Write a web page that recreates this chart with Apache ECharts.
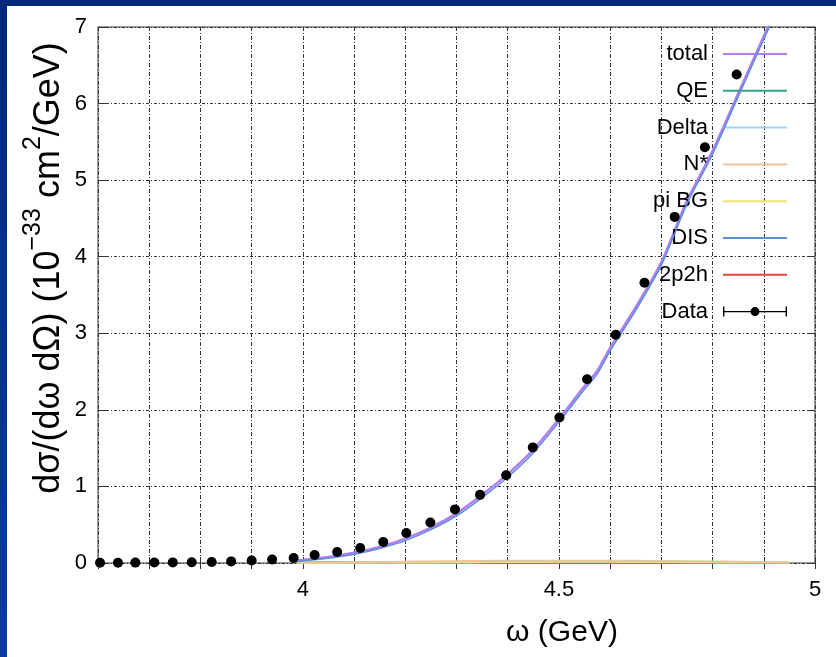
<!DOCTYPE html>
<html>
<head>
<meta charset="utf-8">
<script src="https://cdn.jsdelivr.net/npm/echarts@6/dist/echarts.min.js"></script>
<style>
  html, body { margin: 0; padding: 0; background: #002a7c; }
  #chart { width: 836px; height: 657px; }
</style>
</head>
<body>
<div id="chart"></div>
<script>
// ---- data ----
const xTickLabels = ['4', '4.5', '5'];
const yTickLabels = ['0', '1', '2', '3', '4', '5', '6', '7'];
const seriesNames = ['total', 'QE', 'Delta', 'N*', 'pi BG', 'DIS', '2p2h', 'Data'];
const xAxisTitle = 'ω (GeV)';

const omegaModel = [3.99, 4.0, 4.05, 4.1, 4.15, 4.2, 4.25, 4.3, 4.35, 4.4, 4.45, 4.5, 4.55, 4.575, 4.6, 4.65, 4.7, 4.75, 4.8, 4.85, 4.9, 4.95];
const totalVals = [0.035, 0.04, 0.078, 0.135, 0.21, 0.318, 0.462, 0.648, 0.89, 1.16, 1.48, 1.88, 2.31, 2.51, 2.81, 3.34, 3.93, 4.73, 5.38, 6.13, 6.88, 7.6];
const qeVals = [0.008, 0.01, 0.012, 0.01, 0.007, 0.005, 0.003, 0.002, 0.002, 0.001, 0.001, 0.001, 0.001, 0.001, 0.001, 0.001, 0, 0, 0, 0, 0, 0];
const deltaVals = [0.003, 0.003, 0.004, 0.004, 0.004, 0.004, 0.004, 0.004, 0.004, 0.003, 0.003, 0.003, 0.003, 0.003, 0.003, 0.003, 0.003, 0.002, 0.002, 0.002, 0.002, 0.002];
const nstarVals = [0.004, 0.005, 0.007, 0.009, 0.012, 0.016, 0.02, 0.024, 0.027, 0.029, 0.03, 0.031, 0.031, 0.031, 0.03, 0.028, 0.026, 0.023, 0.02, 0.016, 0.012, 0.009];
const piBGVals = [0.002, 0.003, 0.004, 0.005, 0.006, 0.007, 0.008, 0.01, 0.012, 0.013, 0.014, 0.015, 0.015, 0.015, 0.015, 0.014, 0.013, 0.011, 0.009, 0.007, 0.006, 0.005];
const disVals = [0.02, 0.028, 0.062, 0.115, 0.19, 0.292, 0.435, 0.615, 0.855, 1.12, 1.44, 1.84, 2.27, 2.47, 2.77, 3.3, 3.89, 4.69, 5.34, 6.09, 6.84, 7.57];
const np2hVals = [0, 0, 0.001, 0.001, 0.001, 0.001, 0.001, 0.001, 0.001, 0.001, 0.001, 0.001, 0.001, 0.001, 0.001, 0.001, 0.001, 0, 0, 0, 0, 0];

const omegaData = [3.604, 3.639, 3.673, 3.710, 3.746, 3.783, 3.822, 3.860, 3.900, 3.940, 3.982, 4.023, 4.067, 4.112, 4.157, 4.202, 4.249, 4.297, 4.346, 4.397, 4.449, 4.501, 4.555, 4.611, 4.667, 4.726, 4.785, 4.847];
const dataVals = [0.003, 0.004, 0.005, 0.006, 0.008, 0.010, 0.014, 0.021, 0.032, 0.045, 0.065, 0.105, 0.144, 0.196, 0.274, 0.392, 0.53, 0.70, 0.89, 1.145, 1.51, 1.90, 2.40, 2.98, 3.66, 4.52, 5.43, 6.38];

// ---- build ----
const pairs = (xs, ys) => xs.map((x, i) => [x, ys[i]]);
const FONT = '"Liberation Sans", Arial, sans-serif';
const colors = ['#b07ef0', '#34a883', '#9dd5f7', '#f0c49a', '#f3e07a', '#5b8ed6', '#e5443b'];
const widths = [2.5, 2, 2, 2, 2, 1.5, 2];
const modelVals = [totalVals, qeVals, deltaVals, nstarVals, piBGVals, disVals, np2hVals];
const zOrder = [3, 5, 4, 7, 6, 8, 2];

const lineSeries = modelVals.map((vals, i) => ({
  name: seriesNames[i],
  type: 'line',
  data: pairs(omegaModel, vals),
  showSymbol: false,
  symbol: 'none',
  smooth: 0.25,
  clip: true,
  lineStyle: { color: colors[i], width: widths[i] },
  itemStyle: { color: colors[i] },
  z: zOrder[i]
}));

const lineIcon = 'path://M0 0 L0.01 0 L0 0.01 Z M0 10 L0.01 10 L0 9.99 Z M0 4 H64 V6 H0 Z';
const errIcon = 'path://M0 4.4 H64 V5.6 H0 Z M0 0 H1.4 V10 H0 Z M62.6 0 H64 V10 H62.6 Z M27.5 5 A4.5 4.5 0 1 1 36.5 5 A4.5 4.5 0 1 1 27.5 5 Z';

const chart = echarts.init(document.getElementById('chart'));
const near = (v, s) => Math.abs(v - parseFloat(s)) < 1e-6;

chart.setOption({
  backgroundColor: {
    type: 'linear', x: 0, y: 0, x2: 0, y2: 1,
    colorStops: [{ offset: 0, color: '#00287a' }, { offset: 1, color: '#0a3aa6' }]
  },
  animation: false,
  graphic: [
    { type: 'rect', z: -10, shape: { x: 7, y: 6, width: 829, height: 651 }, style: { fill: '#ffffff' } },
    {
      type: 'text', z: 10, x: 44, y: 268, rotation: Math.PI / 2,
      style: {
        text: '{n|dσ/(dω dΩ) (10}{s|−33}{n| cm}{s|2}{n|/GeV)}',
        align: 'center', verticalAlign: 'middle', fill: '#000',
        rich: {
          n: { fontFamily: FONT, fontSize: 36, lineHeight: 46, verticalAlign: 'bottom', fill: '#000' },
          s: { fontFamily: FONT, fontSize: 25, lineHeight: 46, verticalAlign: 'top', fill: '#000' }
        }
      }
    },
    {
      type: 'text', z: 10, x: 562, y: 633,
      style: { text: xAxisTitle, align: 'center', verticalAlign: 'middle', fill: '#000', font: '30px "Liberation Sans", Arial, sans-serif' }
    }
  ],
  grid: { left: 98, top: 27, right: 21, bottom: 94, show: true, borderColor: '#7a7a7a', borderWidth: 1.5, backgroundColor: 'transparent' },
  legend: {
    orient: 'vertical', align: 'right', right: 49, top: 41, padding: 0,
    itemWidth: 64, itemHeight: 10, itemGap: 10.8,
    textStyle: { fontFamily: FONT, fontSize: 22, color: '#000', lineHeight: 26, padding: [0, 10, 0, 0] },
    data: seriesNames.map(n => ({ name: n, icon: n === 'Data' ? errIcon : lineIcon }))
  },
  xAxis: [{
    type: 'value', min: 3.6, max: 5, interval: 0.1,
    axisLine: { show: false },
    axisTick: { show: true, inside: true, length: 6, lineStyle: { color: '#333' } },
    axisLabel: {
      fontFamily: FONT, fontSize: 22, color: '#000', margin: 16,
      formatter: v => { const t = xTickLabels.find(s => near(v, s)); return t || ''; }
    },
    splitLine: { show: true, lineStyle: { color: '#333', width: 1, type: [4, 2, 1, 2] } }
  }, {
    type: 'value', min: 3.6, max: 5, interval: 0.1, position: 'top',
    axisLine: { show: false }, axisLabel: { show: false },
    axisTick: { show: true, inside: true, length: 6, lineStyle: { color: '#333' } },
    splitLine: { show: false }
  }],
  yAxis: [{
    type: 'value', min: 0, max: 7, interval: 1,
    axisLine: { show: false },
    axisTick: { show: true, inside: true, length: 8, lineStyle: { color: '#333' } },
    axisLabel: {
      fontFamily: FONT, fontSize: 22, color: '#000', margin: 11,
      formatter: v => { const t = yTickLabels.find(s => near(v, s)); return t || ''; }
    },
    splitLine: { show: true, lineStyle: { color: '#333', width: 1, type: [3, 2, 1, 2] } }
  }, {
    type: 'value', min: 0, max: 7, interval: 1, position: 'right',
    axisLine: { show: false }, axisLabel: { show: false },
    axisTick: { show: true, inside: true, length: 8, lineStyle: { color: '#333' } },
    splitLine: { show: false }
  }],
  series: lineSeries.concat([{
    name: 'Data',
    type: 'scatter',
    data: pairs(omegaData, dataVals),
    symbol: 'circle',
    symbolSize: 10,
    itemStyle: { color: '#000', opacity: 1 },
    clip: false,
    z: 20
  }])
});
</script>
</body>
</html>
